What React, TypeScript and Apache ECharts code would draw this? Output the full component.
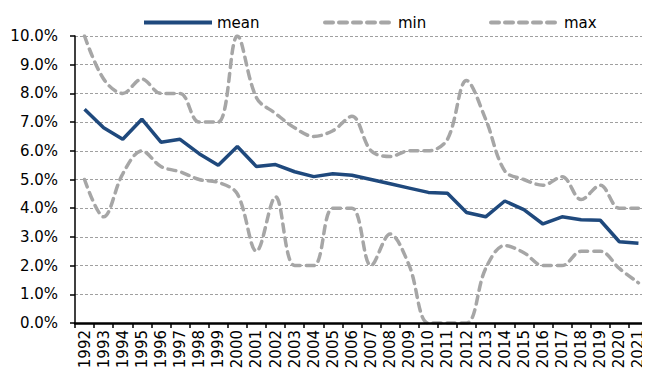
import React, { useEffect, useRef } from "react";
import * as echarts from "echarts";

const years = [
  "1992", "1993", "1994", "1995", "1996", "1997", "1998", "1999", "2000", "2001",
  "2002", "2003", "2004", "2005", "2006", "2007", "2008", "2009", "2010", "2011",
  "2012", "2013", "2014", "2015", "2016", "2017", "2018", "2019", "2020", "2021",
];
const meanValues = [
  7.45, 6.8, 6.4, 7.1, 6.3, 6.4, 5.9, 5.5, 6.15, 5.45,
  5.52, 5.27, 5.1, 5.2, 5.15, 5.0, 4.85, 4.7, 4.55, 4.52,
  3.85, 3.7, 4.25, 3.95, 3.45, 3.7, 3.6, 3.58, 2.83, 2.78,
];
const minValues = [
  5.0, 3.7, 5.2, 6.0, 5.45, 5.27, 5.0, 4.9, 4.5, 2.5,
  4.4, 2.0, 2.0, 4.0, 4.0, 2.0, 3.1, 2.0, 0.0, 0.0,
  0.0, 1.9, 2.7, 2.45, 2.0, 2.0, 2.5, 2.5, 1.9, 1.4,
];
const maxValues = [
  10.0, 8.5, 8.0, 8.5, 8.0, 8.0, 7.0, 7.0, 10.0, 7.85,
  7.3, 6.8, 6.5, 6.7, 7.2, 6.0, 5.8, 6.0, 6.0, 6.4,
  8.45, 7.1, 5.3, 5.0, 4.8, 5.1, 4.3, 4.8, 4.0, 4.0,
];

const FONT = "DejaVu Sans";
const BLUE = "#1F497D";
const GRAY = "#A6A6A6";

export default function App() {
  const ref = useRef<HTMLDivElement>(null);
  useEffect(() => {
    if (!ref.current) return;
    const chart = echarts.init(ref.current, undefined, { renderer: "svg" });
    const dashed = {
      color: GRAY,
      width: 3.5,
      type: [8, 6] as number[],
      cap: "round" as const,
    };
    const legendBase = {
      top: 10,
      itemWidth: 68,
      itemHeight: 14,
      itemGap: 0,
      itemStyle: { opacity: 0 },
      lineStyle: { width: 4 },
      textStyle: { fontFamily: FONT, fontSize: 15, color: "#000" },
    };
    chart.setOption({
      animation: false,
      textStyle: { fontFamily: FONT },
      legend: [
        { ...legendBase, data: ["mean"], left: 137 },
        { ...legendBase, data: ["min"], left: 318 },
        { ...legendBase, data: ["max"], left: 484 },
      ],
      grid: { left: 75, right: 2, top: 36, bottom: 55, containLabel: false },
      xAxis: {
        type: "category",
        data: years,
        boundaryGap: true,
        z: 10,
        axisLine: { lineStyle: { color: "#000", width: 2.5 } },
        axisTick: { show: true, interval: 0, length: 5, lineStyle: { color: "#000", width: 1.5 } },
        axisLabel: {
          interval: 0,
          rotate: 90,
          margin: 7,
          fontFamily: FONT,
          fontSize: 15,
          color: "#000",
        },
      },
      yAxis: {
        type: "value",
        min: 0,
        max: 10,
        interval: 1,
        axisLine: { show: true, lineStyle: { color: "#000", width: 1.5 } },
        axisTick: { show: true, length: 5, lineStyle: { color: "#000", width: 1.5 } },
        axisLabel: {
          formatter: (v: number) => v.toFixed(1) + "%",
          fontFamily: FONT,
          fontSize: 15,
          color: "#000",
          margin: 17,
        },
        splitLine: { lineStyle: { color: "#A0A0A0", width: 1, type: [3, 2] } },
      },
      series: [
        {
          name: "min",
          type: "line",
          data: minValues,
          symbol: "none",
          smooth: 0.35,
          lineStyle: dashed,
          itemStyle: { color: GRAY },
        },
        {
          name: "max",
          type: "line",
          data: maxValues,
          symbol: "none",
          smooth: 0.35,
          lineStyle: dashed,
          itemStyle: { color: GRAY },
        },
        {
          name: "mean",
          type: "line",
          data: meanValues,
          symbol: "none",
          lineStyle: { color: BLUE, width: 3.5 },
          itemStyle: { color: BLUE },
        },
      ],
    });
    return () => chart.dispose();
  }, []);
  return <div ref={ref} style={{ width: 650, height: 378, margin: -8 }} />;
}
